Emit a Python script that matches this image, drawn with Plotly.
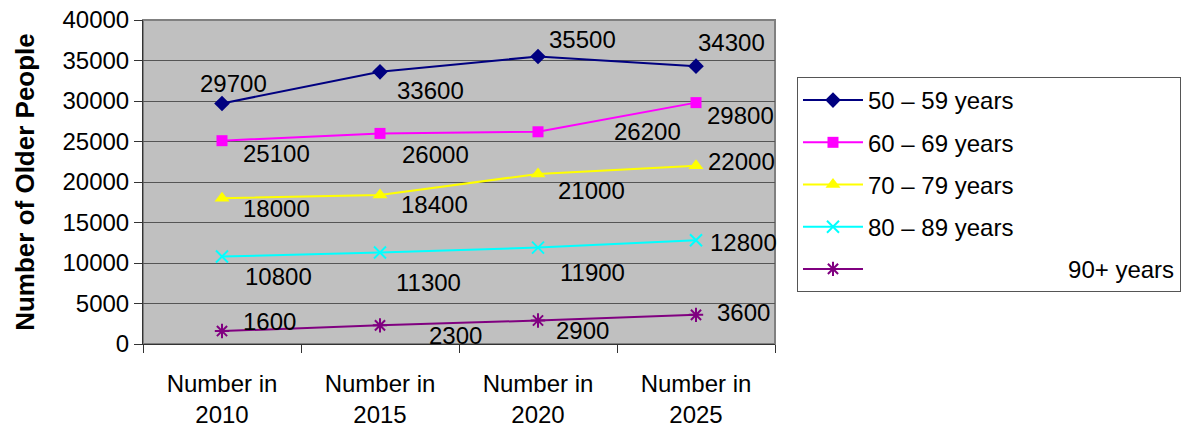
import plotly.graph_objects as go

categories = ["Number in<br>2010", "Number in<br>2015", "Number in<br>2020", "Number in<br>2025"]
series_names = ["50 \u2013 59 years", "60 \u2013 69 years", "70 \u2013 79 years", "80 \u2013 89 years",
                "\u00a0" * 30 + "90+ years"]
values_50_59 = [29700, 33600, 35500, 34300]
values_60_69 = [25100, 26000, 26200, 29800]
values_70_79 = [18000, 18400, 21000, 22000]
values_80_89 = [10800, 11300, 11900, 12800]
values_90_plus = [1600, 2300, 2900, 3600]
y_ticks = [0, 5000, 10000, 15000, 20000, 25000, 30000, 35000, 40000]
y_tick_labels = [str(v) for v in y_ticks]

all_values = [values_50_59, values_60_69, values_70_79, values_80_89, values_90_plus]

# styles
colors = ["#000080", "#FF00FF", "#FFFF00", "#00FFFF", "#800080"]
symbols = ["diamond", "square", "triangle-up", "x-thin-open", "asterisk-open"]
msizes = [12, 11, 13, 12, 12]
# label offsets in pixels (dx, dy up)
label_offsets = [
    [(11, 20), (50, -19), (44, 17), (35, 24)],
    [(54, -13), (55, -21), (109, 0), (44, -13)],
    [(54, -10), (54, -10), (53, -17), (45, 4)],
    [(56, -20), (48, -30), (54, -25), (47, -2)],
    [(47, 10), (75, -10), (44, -10), (47, 2)],
]

FONT = "Liberation Sans, Arial, sans-serif"

fig = go.Figure()
for i, (name, vals) in enumerate(zip(series_names, all_values)):
    fig.add_trace(go.Scatter(
        x=categories, y=vals, name=name, mode="lines+markers",
        legendgroup=f"g{i}",
        line=dict(color=colors[i], width=2),
        marker=dict(symbol=symbols[i], size=msizes[i], color=colors[i],
                    line=dict(color=colors[i], width=2 if "open" in symbols[i] else 0)),
    ))
    for j, v in enumerate(vals):
        dx, dy = label_offsets[i][j]
        fig.add_annotation(x=categories[j], y=v, text=str(v), showarrow=False,
                           xshift=dx, yshift=dy, xanchor="center", yanchor="middle",
                           font=dict(family=FONT, size=24, color="black"))

fig.add_shape(type="rect", xref="paper", yref="paper", x0=0, y0=0, x1=1, y1=1,
              line=dict(color="#808080", width=2), layer="below")

fig.update_layout(
    width=1182, height=430,
    margin=dict(l=143, r=407, t=20, b=86, autoexpand=False),
    paper_bgcolor="white", plot_bgcolor="#C0C0C0",
    font=dict(family=FONT, size=24, color="black"),
    showlegend=True,
    legend=dict(x=1.0348, y=0.824, xanchor="left", yanchor="top",
                bgcolor="white", bordercolor="#555555", borderwidth=1,
                font=dict(family=FONT, size=24, color="black"),
                itemwidth=60, tracegroupgap=8, traceorder="grouped"),
    xaxis=dict(type="category", range=[-0.5, 3.5], tickson="boundaries",
               ticks="outside", ticklen=8, tickcolor="#333333",
               showline=True, linecolor="#333333", linewidth=1,
               showgrid=False, ticklabelstandoff=18, automargin=False,
               tickfont=dict(size=24, family=FONT)),
    yaxis=dict(range=[0, 40000], tickvals=y_ticks, ticktext=y_tick_labels,
               ticks="outside", ticklen=8, automargin=False,
               tickcolor="#333333", showline=True, linecolor="#333333", linewidth=1,
               showgrid=True, gridcolor="#555555", gridwidth=1, zeroline=False,
               tickfont=dict(size=24, family=FONT),
               title=dict(text="<b>Number of Older People</b>", standoff=20,
                          font=dict(size=26, family=FONT))),
)

fig.write_html("out.html", config={"displayModeBar": False},
               post_script="document.body.style.margin='0';document.body.style.overflow='hidden';")
